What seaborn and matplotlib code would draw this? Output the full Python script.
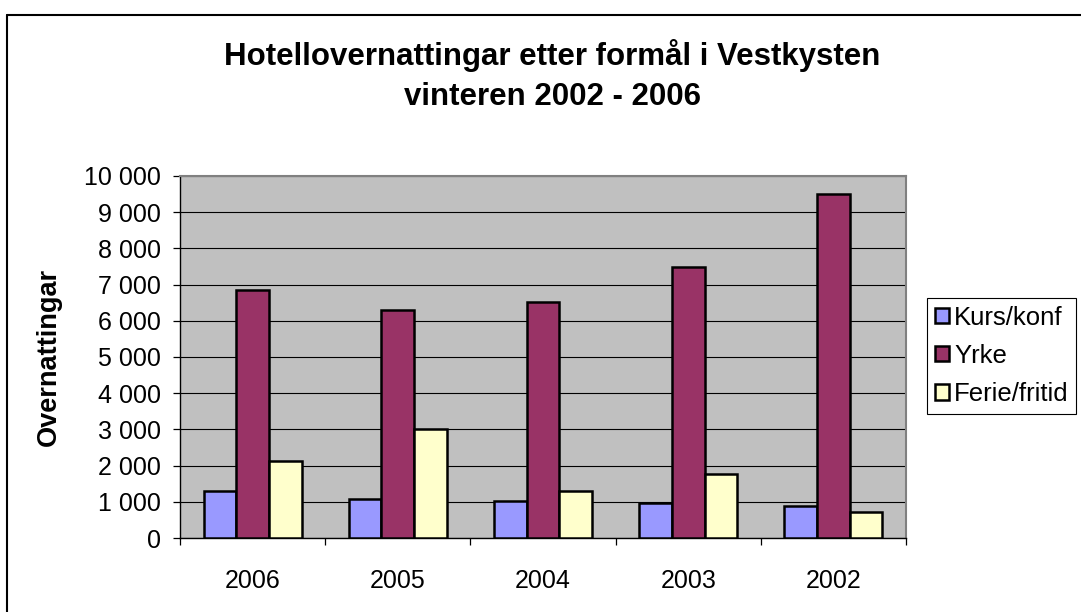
import matplotlib
matplotlib.use("Agg")
import matplotlib.pyplot as plt
import seaborn as sns
import pandas as pd
from matplotlib.lines import Line2D
from matplotlib.ticker import FuncFormatter, FixedLocator

years = ["2006", "2005", "2004", "2003", "2002"]
kurs_konf = [1310, 1090, 1030, 980, 880]
yrke = [6840, 6310, 6520, 7480, 9490]
ferie_fritid = [2120, 3020, 1310, 1770, 720]
series_names = ["Kurs/konf", "Yrke", "Ferie/fritid"]
colors = ["#9999FF", "#993366", "#FFFFCC"]

rows = []
for name, vals in zip(series_names, [kurs_konf, yrke, ferie_fritid]):
    for y, v in zip(years, vals):
        rows.append({"year": y, "value": v, "type": name})
df = pd.DataFrame(rows)

sns.set_style("white")
plt.rcParams["font.family"] = ["Liberation Sans", "DejaVu Sans"]
plt.rcParams["text.color"] = "black"
plt.rcParams["axes.labelcolor"] = "black"
plt.rcParams["xtick.color"] = "black"
plt.rcParams["ytick.color"] = "black"

W, H = 1081, 612
fig = plt.figure(figsize=(W / 100, H / 100), dpi=100)
ax = fig.add_axes([180 / W, 1 - 538 / H, 726 / W, 362 / H])

sns.barplot(data=df, x="year", y="value", hue="type", order=years,
            hue_order=series_names, palette=colors, width=0.675, gap=0,
            edgecolor="black", linewidth=1.8, saturation=1, ax=ax, zorder=3)

ax.set_facecolor("#C0C0C0")
ax.set_xlim(-0.5, 4.5)
ax.set_ylim(0, 10000)
ax.yaxis.set_major_locator(FixedLocator(list(range(0, 10001, 1000))))
ax.yaxis.set_major_formatter(FuncFormatter(lambda v, p: f"{int(v):,}".replace(",", " ")))
ax.grid(axis="y", color="black", linewidth=0.8, zorder=0)
ax.set_axisbelow(True)
ax.set_xlabel("")
ax.set_ylabel("Overnattingar", fontsize=19.5, fontweight="bold", labelpad=16)

ax.tick_params(axis="y", which="major", direction="out", length=5, width=0.9,
               color="black", labelsize=18, pad=9, left=True, labelcolor="black")
ax.tick_params(axis="x", which="major", length=0, labelsize=18, pad=22,
               labelcolor="black")
ax.set_xticks([i + 0.5 for i in range(-1, 5)], minor=True)
ax.tick_params(axis="x", which="minor", direction="out", length=5, width=0.9,
               color="black", bottom=True)

for s in ["left", "bottom"]:
    ax.spines[s].set_color("black")
    ax.spines[s].set_linewidth(1.0)
for s in ["top", "right"]:
    ax.spines[s].set_color("#808080")
    ax.spines[s].set_linewidth(1.5)

handles, labels = ax.get_legend_handles_labels()
if ax.get_legend() is not None:
    ax.get_legend().remove()
leg = fig.legend(handles, labels, loc="upper left",
                 bbox_to_anchor=(927 / W, 1 - 298 / H), frameon=True,
                 fancybox=False, edgecolor="black", framealpha=1,
                 fontsize=18.5, handlelength=0.55, handleheight=0.55,
                 handletextpad=0.2, labelspacing=0.55, borderpad=0.3,
                 borderaxespad=0)
leg.get_frame().set_linewidth(0.8)
for t in leg.get_texts():
    t.set_color("black")

fig.text(552 / W, 1 - 55 / H, "Hotellovernattingar etter formål i Vestkysten",
         ha="center", va="center", fontsize=22.5, fontweight="bold")
fig.text(552 / W, 1 - 97 / H, "vinteren 2002 - 2006",
         ha="center", va="center", fontsize=22.5, fontweight="bold")

fig.add_artist(Line2D([7.5 / W, 1.0], [1 - 14.5 / H, 1 - 14.5 / H],
                      color="black", linewidth=1.5, transform=fig.transFigure))
fig.add_artist(Line2D([7.5 / W, 7.5 / W], [0.0, 1 - 14.5 / H],
                      color="black", linewidth=1.5, transform=fig.transFigure))

fig.savefig("out.png", dpi=100, facecolor="white")
